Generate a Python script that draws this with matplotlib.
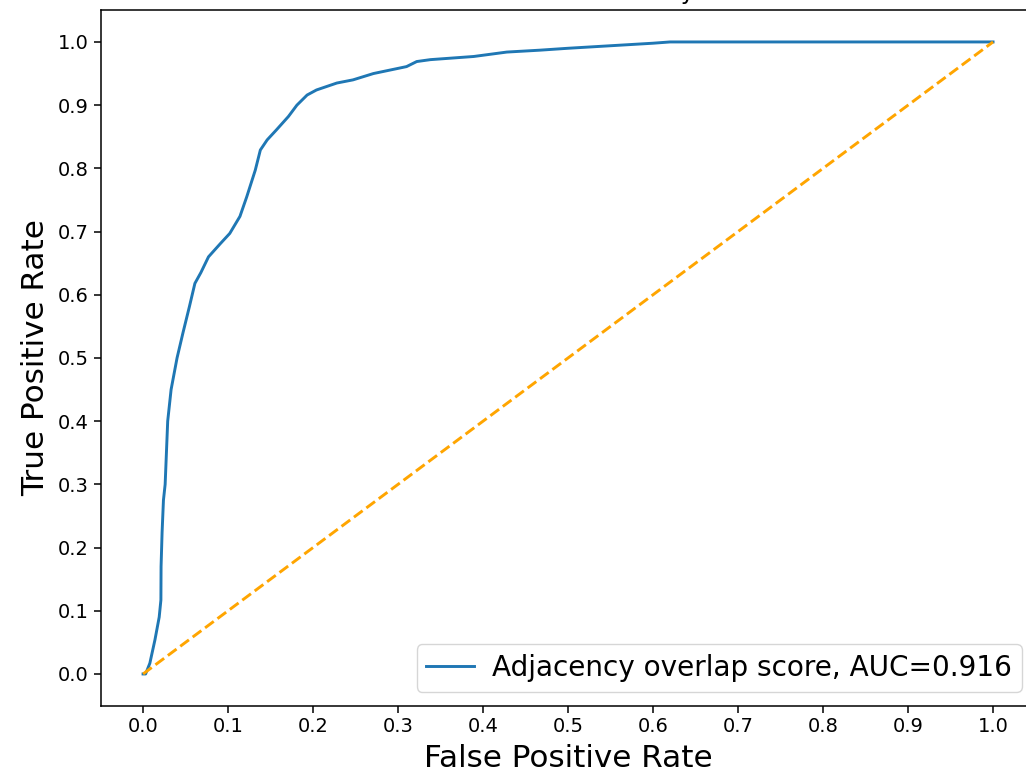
import matplotlib
matplotlib.use('Agg')
import matplotlib.pyplot as plt

# ROC curve
fpr = [0.0, 0.003, 0.008, 0.014, 0.019, 0.021, 0.0212, 0.0224, 0.024, 0.026, 0.029,
       0.033, 0.040, 0.047, 0.0545, 0.061, 0.068, 0.077, 0.091, 0.102, 0.114, 0.122,
       0.132, 0.138, 0.146, 0.157, 0.171, 0.181, 0.193, 0.204, 0.228, 0.247, 0.271,
       0.31, 0.322, 0.338, 0.389, 0.428, 0.467, 0.5, 0.55, 0.6, 0.62, 1.0]
tpr = [0.0, 0.0, 0.017, 0.054, 0.09, 0.117, 0.17, 0.224, 0.275, 0.3, 0.4,
       0.45, 0.5, 0.54, 0.581, 0.618, 0.635, 0.66, 0.681, 0.697, 0.724, 0.755,
       0.797, 0.829, 0.845, 0.861, 0.882, 0.9, 0.916, 0.924, 0.935, 0.94, 0.95,
       0.961, 0.969, 0.972, 0.977, 0.984, 0.987, 0.99, 0.994, 0.998, 1.0, 1.0]
auc = 0.916
label = 'Adjacency overlap score, AUC=%.3f' % auc

chance_x = [0, 1]
chance_y = [0, 1]
ticks = [0.0, 0.1, 0.2, 0.3, 0.4, 0.5, 0.6, 0.7, 0.8, 0.9, 1.0]

fig = plt.figure(figsize=(10.26, 7.78), dpi=100)
ax = fig.add_axes([0.098, 0.0931, 0.9113, 0.8936])

ax.plot(fpr, tpr, color='#1f77b4', lw=2.1, label=label)
ax.plot(chance_x, chance_y, color='orange', lw=2.1, linestyle='--')

ax.set_xlim(-0.05, 1.05)
ax.set_ylim(-0.05, 1.05)
ax.set_xticks(ticks)
ax.set_yticks(ticks)
ax.tick_params(labelsize=14, length=4.9, width=1.1)
for sp in ax.spines.values():
    sp.set_linewidth(1.1)

ax.set_xlabel('False Positive Rate', fontsize=22.4, labelpad=5.6)
ax.set_ylabel('True Positive Rate', fontsize=22.4, labelpad=5.6)
# title sits mostly above the top edge, as in the cropped original
ax.set_title('ROC Curve: Similarity', fontsize=16.8, pad=8.4)
ax.legend(loc='lower right', fontsize=20.1, handlelength=1.7,
          handletextpad=0.65, borderpad=0.35)

fig.savefig('out.png', dpi=100)
